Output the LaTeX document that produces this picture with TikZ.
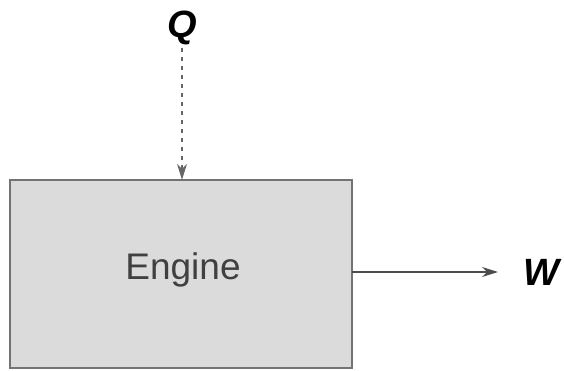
\documentclass[tikz,border=0pt]{standalone}
\usepackage{fontspec}
\setmainfont{Liberation Sans}
\usetikzlibrary{arrows.meta}
\begin{document}
\begin{tikzpicture}[x=1pt,y=-1pt,
  box/.style={draw=black!55,line width=1.6pt,fill=black!14,inner sep=0pt},
  lbl/.style={font=\fontsize{38}{40}\selectfont\bfseries\itshape,inner sep=0pt},
  conn/.style={line width=1.2pt,-{Stealth[length=16pt,width=10pt]}}]
\useasboundingbox (0,0) rectangle (564,371);
\path[box] (10,180) rectangle (352,368);
\node[minimum width=342pt,minimum height=188pt,inner sep=0pt] (eng) at (181,274) {};
\node[font=\fontsize{37}{40}\selectfont,text=black!75] at (183,270) {Engine};
\node[lbl] (q) at (182,28) {Q};
\node[lbl] (w) at (541,272) {W};
\draw[conn,dashed,dash pattern=on 4pt off 5pt,draw=black!60] (182,48) -- (eng.north-|q);
\draw[conn,draw=black!70] (eng.east|-w) -- (498,272);
\end{tikzpicture}
\end{document}
